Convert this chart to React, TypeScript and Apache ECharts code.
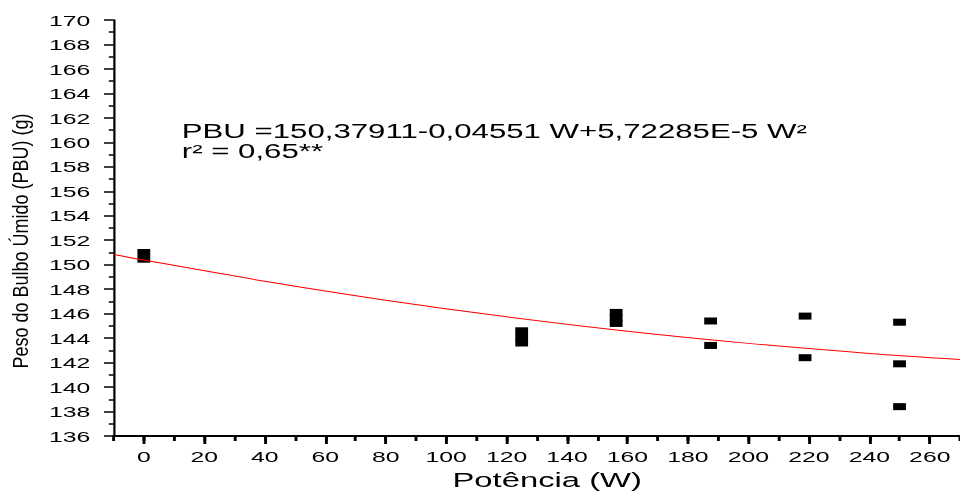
import React, { useEffect, useRef } from 'react';
import * as echarts from 'echarts';

// Observed points: microwave power (W) and wet bulb weight PBU (g)
const powerW = [0, 0, 125, 125, 125, 156.25, 156.25, 156.25, 187.5, 187.5, 218.75, 218.75, 250, 250, 250];
const pbuG = [151.0, 150.45, 144.6, 144.1, 143.6, 146.1, 145.65, 145.2, 145.4, 143.4, 145.8, 142.4, 145.3, 141.9, 138.4];

// Regression curve points
const fitPowerW = [-10, 0, 40, 80, 120, 160, 200, 240, 270];
const fitPbuG = [150.84, 150.38, 148.65, 147.1, 145.74, 144.56, 143.57, 142.75, 142.26];

// Tick labels
const xMajorTicks = [0, 20, 40, 60, 80, 100, 120, 140, 160, 180, 200, 220, 240, 260];

const yTitle = 'Peso do Bulbo Úmido (PBU) (g)';
const xTitle = 'Potência (W)';
const eqLine1 = 'PBU =150,37911-0,04551 W+5,72285E-5 W²';
const eqLine2 = 'r² = 0,65**';

const FONT = '"Liberation Sans", Arial, Helvetica, sans-serif';
const STRETCH = 1.6;

export default function App() {
  const ref = useRef<HTMLDivElement>(null);

  useEffect(() => {
    if (!ref.current) return;
    const chart = echarts.init(ref.current, null, { renderer: 'svg' });
    const scatterData = powerW.map((x, i) => [x, pbuG[i]]);
    const fitData = fitPowerW.map((x, i) => [x, fitPbuG[i]]);

    chart.setOption({
      animation: false,
      grid: { left: 71, top: 20, width: 533, height: 416 },
      xAxis: [
        {
          type: 'value',
          min: -10,
          max: 270,
          interval: 10,
          position: 'bottom',
          axisLine: { show: true, onZero: false, lineStyle: { color: '#000', width: 2 } },
          axisTick: { show: true, inside: false, length: 5, lineStyle: { color: '#000', width: 1.8 } },
          axisLabel: { show: false },
          splitLine: { show: false },
        },
        {
          type: 'value',
          min: -10,
          max: 270,
          position: 'bottom',
          axisLine: { show: false, onZero: false },
          axisTick: {
            show: true,
            inside: false,
            length: 8,
            customValues: xMajorTicks,
            lineStyle: { color: '#000', width: 1.8 },
          },
          axisLabel: {
            show: true,
            customValues: xMajorTicks,
            margin: 12,
            fontSize: 15.5,
            color: '#000',
            fontFamily: FONT,
          },
          splitLine: { show: false },
        },
      ],
      yAxis: {
        type: 'value',
        min: 136,
        max: 170,
        interval: 2,
        axisLine: { show: true, onZero: false, lineStyle: { color: '#000', width: 1.4 } },
        axisTick: { show: true, inside: false, length: 6, lineStyle: { color: '#000', width: 1.5 } },
        minorTick: { show: true, splitNumber: 2, length: 3, lineStyle: { color: '#000', width: 1.5 } },
        axisLabel: { margin: 14.5, fontSize: 15.5, color: '#000', fontFamily: FONT },
        splitLine: { show: false },
        minorSplitLine: { show: false },
      },
      graphic: [
        {
          type: 'text',
          x: 12.5,
          y: 241,
          rotation: Math.PI / 2,
          scaleY: 0.78,
          style: {
            text: yTitle,
            font: `18px ${FONT}`,
            fill: '#000',
            textAlign: 'center',
            textVerticalAlign: 'middle',
          },
        },
        {
          type: 'text',
          x: 342,
          y: 480,
          style: {
            text: xTitle,
            font: `20.5px ${FONT}`,
            fill: '#000',
            textAlign: 'center',
            textVerticalAlign: 'middle',
          },
        },
        {
          type: 'text',
          x: 113.6,
          y: 131,
          style: {
            text: eqLine1,
            font: `19.5px ${FONT}`,
            lineHeight: 19.5,
            fill: '#000',
            textAlign: 'left',
            textVerticalAlign: 'middle',
          },
        },
        {
          type: 'text',
          x: 113.6,
          y: 151.5,
          style: {
            text: eqLine2,
            font: `19.5px ${FONT}`,
            lineHeight: 19.5,
            fill: '#000',
            textAlign: 'left',
            textVerticalAlign: 'middle',
          },
        },
      ],
      series: [
        {
          type: 'scatter',
          xAxisIndex: 0,
          yAxisIndex: 0,
          symbol: 'rect',
          symbolSize: [8, 7],
          itemStyle: { color: '#000', opacity: 1 },
          data: scatterData,
          z: 2,
        },
        {
          type: 'line',
          xAxisIndex: 0,
          yAxisIndex: 0,
          showSymbol: false,
          smooth: 0.3,
          lineStyle: { color: '#ff0000', width: 1 },
          data: fitData,
          z: 3,
        },
      ],
    });

    return () => chart.dispose();
  }, []);

  return (
    <div
      ref={ref}
      style={{
        position: 'fixed',
        left: 0,
        top: 0,
        width: 600,
        height: 493,
        transform: `scaleX(${STRETCH})`,
        transformOrigin: '0 0',
      }}
    />
  );
}
